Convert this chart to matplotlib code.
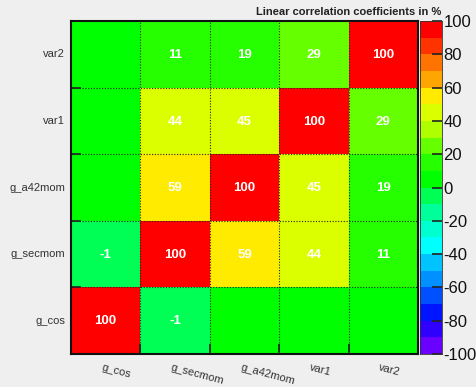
import numpy as np
import matplotlib
matplotlib.use("Agg")
import matplotlib.pyplot as plt
from matplotlib.colors import ListedColormap, BoundaryNorm

plt.rcParams['font.family'] = ['Liberation Sans', 'DejaVu Sans']

variables = ["g_cos", "g_secmom", "g_a42mom", "var1", "var2"]
# rows listed bottom to top, columns left to right
corr = np.array([
    [100, -1, 0, 0, 0],
    [-1, 100, 59, 44, 11],
    [0, 59, 100, 45, 19],
    [0, 44, 45, 100, 29],
    [0, 11, 19, 29, 100],
])
cbar_ticks = [-100, -80, -60, -40, -20, 0, 20, 40, 60, 80, 100]
title = "Linear correlation coefficients in %"

# 20-level palette from -100 to 100
palette = [
    "#6a00ff", "#3000ff", "#0015ff", "#0050ff", "#0090ff",
    "#00c3ff", "#00ffff", "#00ffd0", "#00ff9a", "#00ff55",
    "#00ff00", "#26ff00", "#66ff00", "#b0ff00", "#dcff00",
    "#ffeb00", "#ffa500", "#ff7300", "#ff3300", "#ff0000",
]
levels = np.linspace(-100, 100, 21)
cmap = ListedColormap(palette)
norm = BoundaryNorm(levels, cmap.N)

bg = "#efefef"
fig = plt.figure(figsize=(4.77, 3.87), dpi=100, facecolor=bg)
ax = fig.add_axes([0.1488, 0.0853, 0.7275, 0.8604])
ax.set_facecolor(bg)

n = len(variables)
edges = np.arange(n + 1)
ax.pcolormesh(edges, edges, corr, cmap=cmap, norm=norm)
ax.set_xlim(0, n)
ax.set_ylim(0, n)

for i in range(n):
    for j in range(n):
        v = corr[i, j]
        if v != 0:
            ax.text(j + 0.5, i + 0.49, f"{v}", ha="center", va="center",
                    color="white", fontsize=9.5, fontweight="bold")

# dotted grid on cell boundaries
for k in range(1, n):
    ax.axvline(k, color="#222222", lw=0.8, ls=(0, (1, 1.5)))
    ax.axhline(k, color="#222222", lw=0.8, ls=(0, (1, 1.5)))

ax.set_xticks(edges[1:-1], minor=False)
ax.set_yticks(edges[1:-1], minor=False)
ax.set_xticklabels([])
ax.set_yticklabels([])
ax.tick_params(axis="both", which="major", direction="in", length=7, width=1.2,
               color="#222222", top=False, right=False)
for j, name in enumerate(variables):
    ax.text(j + 0.46, -0.13, name, ha="left", va="top", rotation=-15,
            rotation_mode="anchor", fontsize=8, color="#333333")
    ax.text(-0.085, j + 0.5, name, ha="right", va="center", fontsize=8,
            color="#333333")

for s in ax.spines.values():
    s.set_linewidth(1.5)
    s.set_color("#111111")

# colour scale
cax = fig.add_axes([0.8805, 0.0853, 0.0461, 0.8604])
cax.pcolormesh([0, 1], levels, levels[:-1, None] + 5, cmap=cmap, norm=norm)
cax.set_xlim(0, 1)
cax.set_ylim(-100, 100)
cax.set_xticks([])
cax.yaxis.tick_right()
cax.set_yticks(cbar_ticks)
cax.set_yticklabels([str(t) for t in cbar_ticks])
cax.tick_params(axis="y", direction="in", length=7, width=1.2, color="#222222",
                labelsize=12, pad=1, labelcolor="#111111")
for s in cax.spines.values():
    s.set_linewidth(0.6)
    s.set_color("#333333")

fig.text(0.925, 0.957, title, ha="right", va="bottom", fontsize=8,
         fontweight="bold", color="#222222")

fig.savefig("out.png", dpi=100, facecolor=bg)
